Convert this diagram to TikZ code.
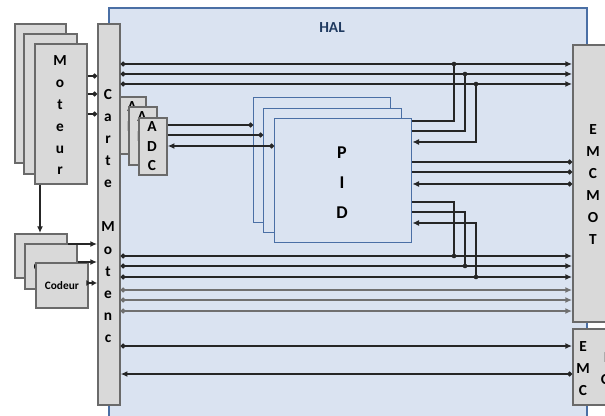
\documentclass[tikz,border=0pt]{standalone}
\usepackage{fontspec}
\setmainfont{Carlito}
\usetikzlibrary{arrows.meta}

\newlength\px
\setlength\px{0.75pt}

\definecolor{halfond}{HTML}{DAE3F1}
\definecolor{halbord}{HTML}{4A6FA5}
\definecolor{halnom}{HTML}{1F3A60}
\definecolor{boitefond}{HTML}{D9D9D9}
\definecolor{boitebord}{HTML}{6A6A6A}
\definecolor{filnoir}{HTML}{262626}
\definecolor{filgris}{HTML}{707070}

\tikzset{
  boite/.style={draw=boitebord, fill=boitefond, line width=1.3pt, inner sep=0pt, anchor=north west},
  pidboite/.style={draw=halbord, fill=halfond, line width=1pt, inner sep=0pt, anchor=north west},
  lettre/.style={font=\bfseries\fontsize{11.5}{13}\selectfont, anchor=base, inner sep=0pt},
  fil/.style={draw=filnoir, line width=1.4pt},
  filg/.style={draw=filgris, line width=1.4pt},
  fleche/.style={arrows={-Latex[length=5pt,width=4.5pt]}},
  ptfl/.style={arrows={Circle[length=3.5pt]-Latex[length=5pt,width=4.5pt]}},
  verspt/.style={arrows={-Circle[length=3.5pt]}},
  ptpt/.style={arrows={Circle[length=3.5pt]-Circle[length=3.5pt]}},
  double/.style={arrows={-Latex[length=4pt,width=4.5pt]Latex[length=4pt,width=4.5pt]}},
}

\begin{document}
\begin{tikzpicture}[x=0.75pt, y=-0.75pt]
	\useasboundingbox (0,0) rectangle (605,416);
	\clip (0,0) rectangle (605,416);

	% bloc HAL
	\node[draw=halbord, fill=halfond, line width=1.2pt, inner sep=0pt, anchor=north west,
	      minimum width=478\px, minimum height=430\px] (hal) at (108,7) {};
	\node[font=\bfseries\fontsize{11.5}{13}\selectfont, text=halnom, anchor=base] (halnom) at (332,33) {HAL};

	% moteurs
	\node[boite, minimum width=51\px, minimum height=139\px] (mot3) at (14,23) {};
	\node[boite, minimum width=53\px, minimum height=140\px] (mot2) at (23,33) {};
	\node[boite, minimum width=52\px, minimum height=140\px] (mot1) at (34,43) {};
	\foreach \l [count=\i from 0] in {M,o,t,e,u,r}
		\node[lettre] (motl\i) at (60,66+21.8*\i) {\l};

	% codeurs
	\node[boite, minimum width=52\px, minimum height=44\px, font=\bfseries\fontsize{8.5}{10}\selectfont] (cod3) at (14,233) {Codeur};
	\node[boite, minimum width=52\px, minimum height=45\px, font=\bfseries\fontsize{8.5}{10}\selectfont] (cod2) at (24,243) {Codeur};
	\node[boite, minimum width=52\px, minimum height=45\px, font=\bfseries\fontsize{8.5}{10}\selectfont] (cod1) at (35,262) {Codeur};
	\draw[fil, fleche] (mot1.south -| 40,0) -- (cod3.north -| 40,0);

	% carte Motenc
	\node[boite, minimum width=22\px, minimum height=381\px] (carte) at (97,23) {};
	\foreach \l [count=\i from 0] in {C,a,r,t,e,{},M,o,t,e,n,c}
		\node[lettre] (cartel\i) at (108,100+22*\i) {\l};

	% ADC
	\node[boite, minimum width=26\px, minimum height=57\px] (adc3) at (119,96) {};
	\foreach \l [count=\i from 0] in {A,D,C}
		\node[lettre] (adcc\i) at (132,112+19.5*\i) {\l};
	\node[boite, minimum width=28\px, minimum height=58\px] (adc2) at (128,106) {};
	\foreach \l [count=\i from 0] in {A,D,C}
		\node[lettre] (adcb\i) at (142,122+19.5*\i) {\l};
	\node[boite, minimum width=28\px, minimum height=57\px] (adc1) at (138,117) {};
	\foreach \l [count=\i from 0] in {A,D,C}
		\node[lettre] (adca\i) at (152,132+19.5*\i) {\l};

	% PID
	\node[pidboite, minimum width=137\px, minimum height=125\px] (pid3) at (253,97) {};
	\node[pidboite, minimum width=138\px, minimum height=124\px] (pid2) at (263,108) {};
	\node[pidboite, minimum width=137\px, minimum height=124\px] (pid1) at (274,118) {};
	\foreach \l [count=\i from 0] in {P,I,D}
		\node[lettre, font=\bfseries\fontsize{13.5}{15}\selectfont] (pidl\i) at (342,159+30*\i) {\l};

	% EMCMOT et EMC
	\node[boite, minimum width=50\px, minimum height=277\px] (emcmot) at (572,44) {};
	\foreach \l [count=\i from 0] in {E,M,C,M,O,T}
		\node[lettre] (emcmotl\i) at (593,135+21.8*\i) {\l};
	\node[boite, minimum width=50\px, minimum height=76\px] (emc) at (572,328) {};
	\foreach \l [count=\i from 0] in {E,M,C}
		\node[lettre] (emcl\i) at (583,351+22*\i) {\l};
	\foreach \l [count=\i from 0] in {I,O}
		\node[lettre] (emcio\i) at (606,362+22*\i) {\l};

	% points de jonction
	\coordinate (jh1) at (454,64);
	\coordinate (jh2) at (465,74);
	\coordinate (jh3) at (476,84);
	\coordinate (jb1) at (454,256);
	\coordinate (jb2) at (465,266);
	\coordinate (jb3) at (476,277);

	% moteur -> carte
	\foreach \y in {76,94,114}
		\draw[fil, verspt] (mot1.east |- 0,\y) -- (carte.west |- 0,\y);

	% codeur -> carte
	\draw[fil, fleche] (cod3.east |- 0,244) -- (carte.west |- 0,244);
	\draw[fil, fleche] (cod2.east |- 0,262) -- (carte.west |- 0,262);
	\draw[fil, double] (cod1.east |- 0,283) -- (carte.west |- 0,283);

	% carte -> EMCMOT
	\foreach \y in {64,74,84,256,266,277}
		\draw[fil, ptfl] (carte.east |- 0,\y) -- (emcmot.west |- 0,\y);
	\foreach \y in {290,300,311}
		\draw[filg, ptfl] (carte.east |- 0,\y) -- (emcmot.west |- 0,\y);

	% carte <-> EMC
	\draw[fil, ptfl] (carte.east |- 0,346) -- (emc.west |- 0,346);
	\draw[fil, ptfl] (emc.west |- 0,374) -- (carte.east |- 0,374);

	% ADC <-> PID
	\draw[fil, verspt] (adc1.east |- 0,125) -- (pid3.west |- 0,125);
	\draw[fil, verspt] (adc1.east |- 0,135) -- (pid2.west |- 0,135);
	\draw[fil, ptfl] (pid1.west |- 0,146) -- (adc1.east |- 0,146);

	% PID <-> EMCMOT
	\draw[fil] (pid1.east |- 0,121) -| (jh1);
	\draw[fil] (pid1.east |- 0,131) -| (jh2);
	\draw[fil, fleche] (jh3) |- (pid1.east |- 0,142);
	\draw[fil, verspt] (pid1.east |- 0,162) -- (emcmot.west |- 0,162);
	\draw[fil, verspt] (pid1.east |- 0,172) -- (emcmot.west |- 0,172);
	\draw[fil, ptfl] (emcmot.west |- 0,184) -- (pid1.east |- 0,184);
	\draw[fil] (pid1.east |- 0,202) -| (jb1);
	\draw[fil] (pid1.east |- 0,212) -| (jb2);
	\draw[fil, fleche] (jb3) |- (pid1.east |- 0,223);
	\foreach \j in {jh1,jh2,jh3,jb1,jb2,jb3}
		\fill[filnoir] (\j) circle (2.3);
\end{tikzpicture}
\end{document}
